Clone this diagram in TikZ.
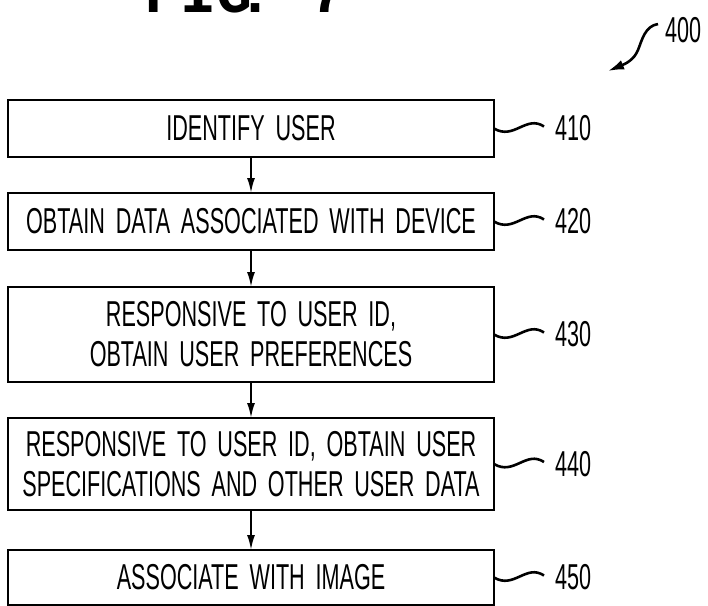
\documentclass[tikz,border=0pt]{standalone}
\usepackage{fontspec}
\setmainfont{Liberation Sans}[FakeStretch=0.6,WordSpace=1.8]
\newfontfamily\figfont{Liberation Mono}
\usetikzlibrary{arrows.meta}

\begin{document}
\begin{tikzpicture}[y=1pt,x=1pt,yscale=-1, inner sep=0pt, outer sep=0pt,
    stepbox/.style={draw=black,line width=2.4pt,minimum width=486pt,align=center,
      font=\fontsize{36}{40}\selectfont},
    flow/.style={draw=black,line width=2pt,-{Latex[length=15pt,width=8pt]}},
    leader/.style={draw=black,line width=2.6pt},
    reflabel/.style={anchor=west,font=\fontsize{36}{40}\selectfont}]
      \useasboundingbox (0,0) rectangle (708,605);
      \path[fill=white] (0,0) rectangle (708,605);
      % figure title, cut by the top edge
      \node[anchor=south west,font=\figfont\bfseries\fontsize{60}{60}\selectfont]
        (fig) at (144,13) {FIG\kern-15pt.\kern38pt7};
      % steps
      \node[stepbox,minimum height=57pt] (s410) at (251,128.5) {IDENTIFY USER};
      \node[stepbox,minimum height=57pt] (s420) at (251,221.5)
        {OBTAIN DATA ASSOCIATED WITH DEVICE};
      \node[stepbox,minimum height=95pt] (s430) at (251,334.5)
        {RESPONSIVE TO USER ID,\\OBTAIN USER PREFERENCES};
      \node[stepbox,minimum height=92pt] (s440) at (251,464)
        {RESPONSIVE TO USER ID, OBTAIN USER\\SPECIFICATIONS AND OTHER USER DATA};
      \node[stepbox,minimum height=55pt] (s450) at (251,577.5) {ASSOCIATE WITH IMAGE};
      \foreach \a/\b in {s410/s420,s420/s430,s430/s440,s440/s450}
        \draw[flow] (\a.south) -- (\b.north);
      % reference numerals
      \foreach \s/\n in {s410/410,s420/420,s430/430,s440/440,s450/450} {
        \coordinate (w\n) at ([shift={(50,-2)}]\s.east);
        \draw[leader] (\s.east) .. controls +(20,12) and +(-18,-12) .. (w\n);
        \node[reflabel] (n\n) at ([xshift=61pt]\s.east) {\n};
      }
      \node[reflabel,anchor=north west] (n400) at (665,17) {400};
      \coordinate (c400) at (658,24);
      \coordinate (t400) at (608,71);
      \draw[leader,-{Latex[length=16pt,width=10pt]}] (c400) .. controls (645,26)
        and (642,40) .. (638,50) .. controls (634,60) and (625,64) .. (t400);
\end{tikzpicture}
\end{document}
